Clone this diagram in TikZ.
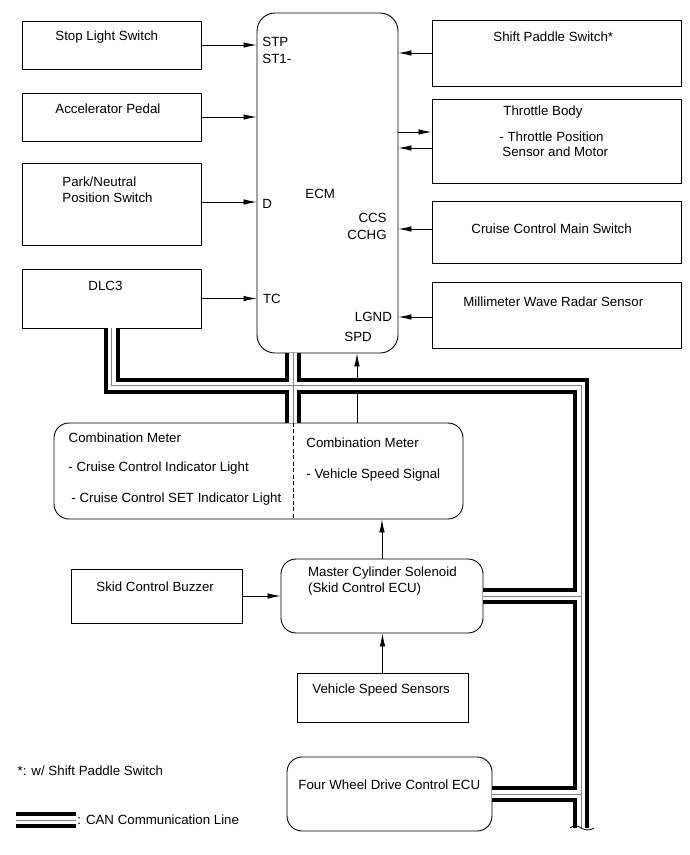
\documentclass[tikz,border=0pt]{standalone}
\usepackage{fontspec}
\setmainfont{Liberation Sans}
\usetikzlibrary{arrows.meta}

\begin{document}
\begin{tikzpicture}[x=1pt,y=-1pt,line width=0.8pt,font=\fontsize{13.3}{16}\selectfont,
  blk/.style={draw,line width=0.9pt,inner sep=0pt},
  rblk/.style={blk,rounded corners=15pt},
  txt/.style={anchor=base west,inner sep=0pt},
  txtr/.style={anchor=base east,inner sep=0pt},
  sig/.style={-{Latex[length=13pt,width=5.5pt]}}]
\useasboundingbox (0,0) rectangle (690,855);
% left column
\node[blk,minimum width=179pt,minimum height=48pt] (stop)at(111.5,45){};
\node[blk,minimum width=179pt,minimum height=48pt] (accel)at(111.5,117){};
\node[blk,minimum width=179pt,minimum height=82pt] (park)at(111.5,204){};
\node[blk,minimum width=179pt,minimum height=59pt] (dlc)at(111.5,298.5){};
\node[txt] (stoptxt)at(55,40.5){Stop Light Switch};
\node[txt] (acceltxt)at(55,113.3){Accelerator Pedal};
\node[txt] (parktxt)at(62,186){Park/Neutral};
\node[txt] (parktxtb)at(62,202){Position Switch};
\node[txt] (dlctxt)at(88,290){DLC3};
% ECM
\node[blk,rounded corners=18pt,minimum width=141pt,minimum height=340pt] (ecm)at(327.5,183){};
\node[txt] (ecmtxt)at(305,198.3){ECM};
\node[txt] (stp)at(262,46.7){STP};
\node[txt] (st1)at(262,63.3){ST1-};
\node[txt] (dpin)at(262,208.3){D};
\node[txt] (tc)at(262.7,303.3){TC};
\node[txtr] (ccspin)at(387,222.7){CCS};
\node[txtr] (cchg)at(387,239.3){CCHG};
\node[txtr] (lgnd)at(392.3,321.7){LGND};
\node[txt] (spd)at(344,341.7){SPD};
% right column
\node[blk,minimum width=249pt,minimum height=66pt] (shift)at(556.5,53){};
\node[blk,minimum width=249pt,minimum height=84pt] (thr)at(556.5,141){};
\node[blk,minimum width=249pt,minimum height=62pt] (ccs)at(556.5,232){};
\node[blk,minimum width=249pt,minimum height=66pt] (radar)at(556.5,315){};
\node[txt] (shifttxt)at(493,41.7){Shift Paddle Switch*};
\node[txt] (thrtxt)at(503,115){Throttle Body};
\node[txt] (thrtxtb)at(499,141.7){- Throttle Position};
\node[txt] (thrtxtc)at(502,156.7){Sensor and Motor};
\node[txt] (ccstxt)at(471,233.3){Cruise Control Main Switch};
\node[txt] (radartxt)at(463,306.7){Millimeter Wave Radar Sensor};
% lower part
\node[rblk,minimum width=409pt,minimum height=96pt] (comb)at(258.5,471){};
\node[txt] (combtxt)at(68.3,442.7){Combination Meter};
\node[txt] (combtxtb)at(68,471.7){- Cruise Control Indicator Light};
\node[txt] (combtxtc)at(71,502){- Cruise Control SET Indicator Light};
\node[txt] (combtxtd)at(306,447.7){Combination Meter};
\node[txt] (combtxte)at(306,478.3){- Vehicle Speed Signal};
\node[blk,minimum width=171pt,minimum height=54pt] (buzz)at(156.5,596){};
\node[txt] (buzztxt)at(96,591){Skid Control Buzzer};
\node[rblk,minimum width=202pt,minimum height=74pt] (master)at(382,596){};
\node[txt] (mastertxt)at(307.7,576.7){Master Cylinder Solenoid};
\node[txt] (mastertxtb)at(307.7,592.7){(Skid Control ECU)};
\node[blk,minimum width=171pt,minimum height=49pt] (vss)at(382.5,697.5){};
\node[txt] (vsstxt)at(312,693.3){Vehicle Speed Sensors};
\node[rblk,minimum width=205pt,minimum height=74pt] (fwd)at(389.5,794){};
\node[txt] (fwdtxt)at(298,789.3){Four Wheel Drive Control ECU};
% legend
\node[txt] (note)at(17.3,775){*: w/ Shift Paddle Switch};
\node[txt] (cantxt)at(77,824.3){: CAN Communication Line};
% signal lines
\draw[sig] (stop.east) -- (stop.east -| ecm.west);
\draw[sig] (accel.east) -- (accel.east -| ecm.west);
\draw[sig] ([yshift=2pt]park.east) -- ([yshift=2pt]park.east -| ecm.west);
\draw[sig] (dlc.east) -- (dlc.east -| ecm.west);
\draw[sig] (shift.west) -- (shift.west -| ecm.east);
\draw[sig] ([yshift=9pt]thr.west -| ecm.east) -- ([yshift=9pt]thr.west);
\draw[sig] ([yshift=-7pt]thr.west) -- ([yshift=-7pt]thr.west -| ecm.east);
\draw[sig] ([yshift=3pt]ccs.west) -- ([yshift=3pt]ccs.west -| ecm.east);
\draw[sig] ([yshift=-2pt]radar.west) -- ([yshift=-2pt]radar.west -| ecm.east);
\coordinate (spdfoot) at ([xshift=98.5pt]comb.north);
\draw[sig] (spdfoot) -- (spdfoot |- ecm.south);
\draw[sig] (master.north) -- (master.north |- comb.south);
\draw[sig] (vss.north) -- (vss.north |- master.south);
\draw[sig] (buzz.east) -- (buzz.east -| master.west);
% CAN lines
\coordinate (busc) at (581,385.5);
\coordinate (busend) at (581,828);
\coordinate (ecmbus) at ([xshift=-34.5pt]ecm.south);
\coordinate (lega) at (16,820);
\coordinate (legb) at (76,820);
\foreach \w/\c in {16/black,8/white,1/gray} {
  \draw[line width=\w pt,draw=\c] (dlc.south) |- (busc) -- (busend);
  \draw[line width=\w pt,draw=\c] (ecmbus) -- (ecmbus |- comb.north);
  \draw[line width=\w pt,draw=\c] (master.east) -- (master.east -| busc);
  \draw[line width=\w pt,draw=\c] (fwd.east) -- (fwd.east -| busc);
  \draw[line width=\w pt,draw=\c] (lega) -- (legb);
}
\draw[dash pattern=on 4pt off 2.5pt] (ecmbus |- comb.north) -- (ecmbus |- comb.south);
\draw ([xshift=-11pt]busend) .. controls +(5,-4) and +(-3,-2) .. (busend) .. controls +(3,2) and +(-4,3) .. ([xshift=13pt]busend);
\end{tikzpicture}
\end{document}
